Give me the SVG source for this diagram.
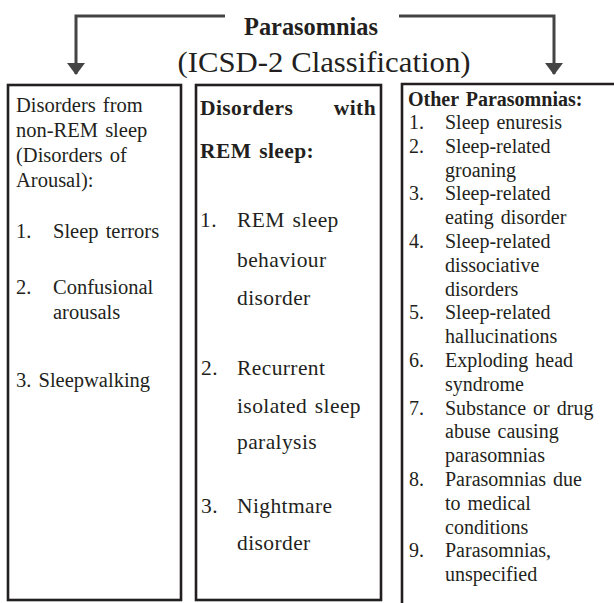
<svg xmlns="http://www.w3.org/2000/svg" width="614" height="603" viewBox="0 0 614 603">
<style>
text{font-family:"Liberation Serif","Times New Roman",serif;fill:#231f20}
.t{font-size:20.5px;word-spacing:2px}
.m{font-size:21.5px;letter-spacing:0.4px;word-spacing:2px}
.r{font-size:20px;word-spacing:2px}
.b{font-weight:bold}
.box{fill:none;stroke:#231f20;stroke-width:2.6}
.conn{fill:none;stroke:#444;stroke-width:3}
</style>
<defs>
<marker id="ah" viewBox="0 0 12 18" refX="11" refY="9" markerWidth="12" markerHeight="18" markerUnits="userSpaceOnUse" orient="auto">
<path d="M0,0 L12,9 L0,18 z" fill="#444"/>
</marker>
</defs>
<rect width="614" height="603" fill="#fff"/>
<g id="title">
<text x="311" y="35" text-anchor="middle" class="b" font-size="26" textLength="134" lengthAdjust="spacingAndGlyphs">Parasomnias</text>
<text x="324" y="72" text-anchor="middle" font-size="29" textLength="293" lengthAdjust="spacingAndGlyphs">(ICSD-2 Classification)</text>
</g>
<g id="connectors">
<path class="conn" d="M225,16 H76 V74" marker-end="url(#ah)"/>
<path class="conn" d="M399,16 H554 V74" marker-end="url(#ah)"/>
</g>
<g id="nonrem">
<rect class="box" x="8" y="85" width="173" height="515"/>
<text class="t" x="16" y="112">Disorders from</text>
<text class="t" x="16" y="137">non-REM sleep</text>
<text class="t" x="16" y="162">(Disorders of</text>
<text class="t" x="16" y="187">Arousal):</text>
<text class="t" x="16" y="238">1.</text><text class="t" x="53" y="238">Sleep terrors</text>
<text class="t" x="16" y="294">2.</text><text class="t" x="53" y="294">Confusional</text>
<text class="t" x="53" y="319">arousals</text>
<text class="t" x="16" y="387">3. Sleepwalking</text>
</g>
<g id="rem">
<rect class="box" x="196" y="85" width="185" height="515"/>
<text class="m b" x="200" y="115" font-size="19.5">Disorders</text>
<text class="m b" x="376" y="115" font-size="19.5" text-anchor="end">with</text>
<text class="m b" x="200" y="158" font-size="19.5">REM sleep:</text>
<text class="m" x="200" y="227">1.</text><text class="m" x="237" y="227">REM sleep</text>
<text class="m" x="237" y="267">behaviour</text>
<text class="m" x="237" y="305">disorder</text>
<text class="m" x="201" y="375">2.</text><text class="m" x="237" y="375">Recurrent</text>
<text class="m" x="237" y="413">isolated sleep</text>
<text class="m" x="237" y="449">paralysis</text>
<text class="m" x="201" y="513">3.</text><text class="m" x="237" y="513">Nightmare</text>
<text class="m" x="237" y="550">disorder</text>
</g>
<g id="other">
<path class="box" d="M402,610 V84 H620"/>
<text class="r b" x="408" y="106" font-size="19">Other Parasomnias:</text>
<text class="r" x="409" y="129">1.</text><text class="r" x="445" y="129">Sleep enuresis</text>
<text class="r" x="409" y="152.8">2.</text><text class="r" x="445" y="152.8">Sleep-related</text>
<text class="r" x="445" y="176.6">groaning</text>
<text class="r" x="409" y="200.4">3.</text><text class="r" x="445" y="200.4">Sleep-related</text>
<text class="r" x="445" y="224.2">eating disorder</text>
<text class="r" x="409" y="248">4.</text><text class="r" x="445" y="248">Sleep-related</text>
<text class="r" x="445" y="271.8">dissociative</text>
<text class="r" x="445" y="295.6">disorders</text>
<text class="r" x="409" y="319.4">5.</text><text class="r" x="445" y="319.4">Sleep-related</text>
<text class="r" x="445" y="343.2">hallucinations</text>
<text class="r" x="409" y="367">6.</text><text class="r" x="445" y="367">Exploding head</text>
<text class="r" x="445" y="390.8">syndrome</text>
<text class="r" x="409" y="414.6">7.</text><text class="r" x="445" y="414.6">Substance or drug</text>
<text class="r" x="445" y="438.4">abuse causing</text>
<text class="r" x="445" y="462.2">parasomnias</text>
<text class="r" x="409" y="486">8.</text><text class="r" x="445" y="486">Parasomnias due</text>
<text class="r" x="445" y="509.8">to medical</text>
<text class="r" x="445" y="533.6">conditions</text>
<text class="r" x="409" y="557.4">9.</text><text class="r" x="445" y="557.4">Parasomnias,</text>
<text class="r" x="445" y="581.2">unspecified</text>
</g>
</svg>
